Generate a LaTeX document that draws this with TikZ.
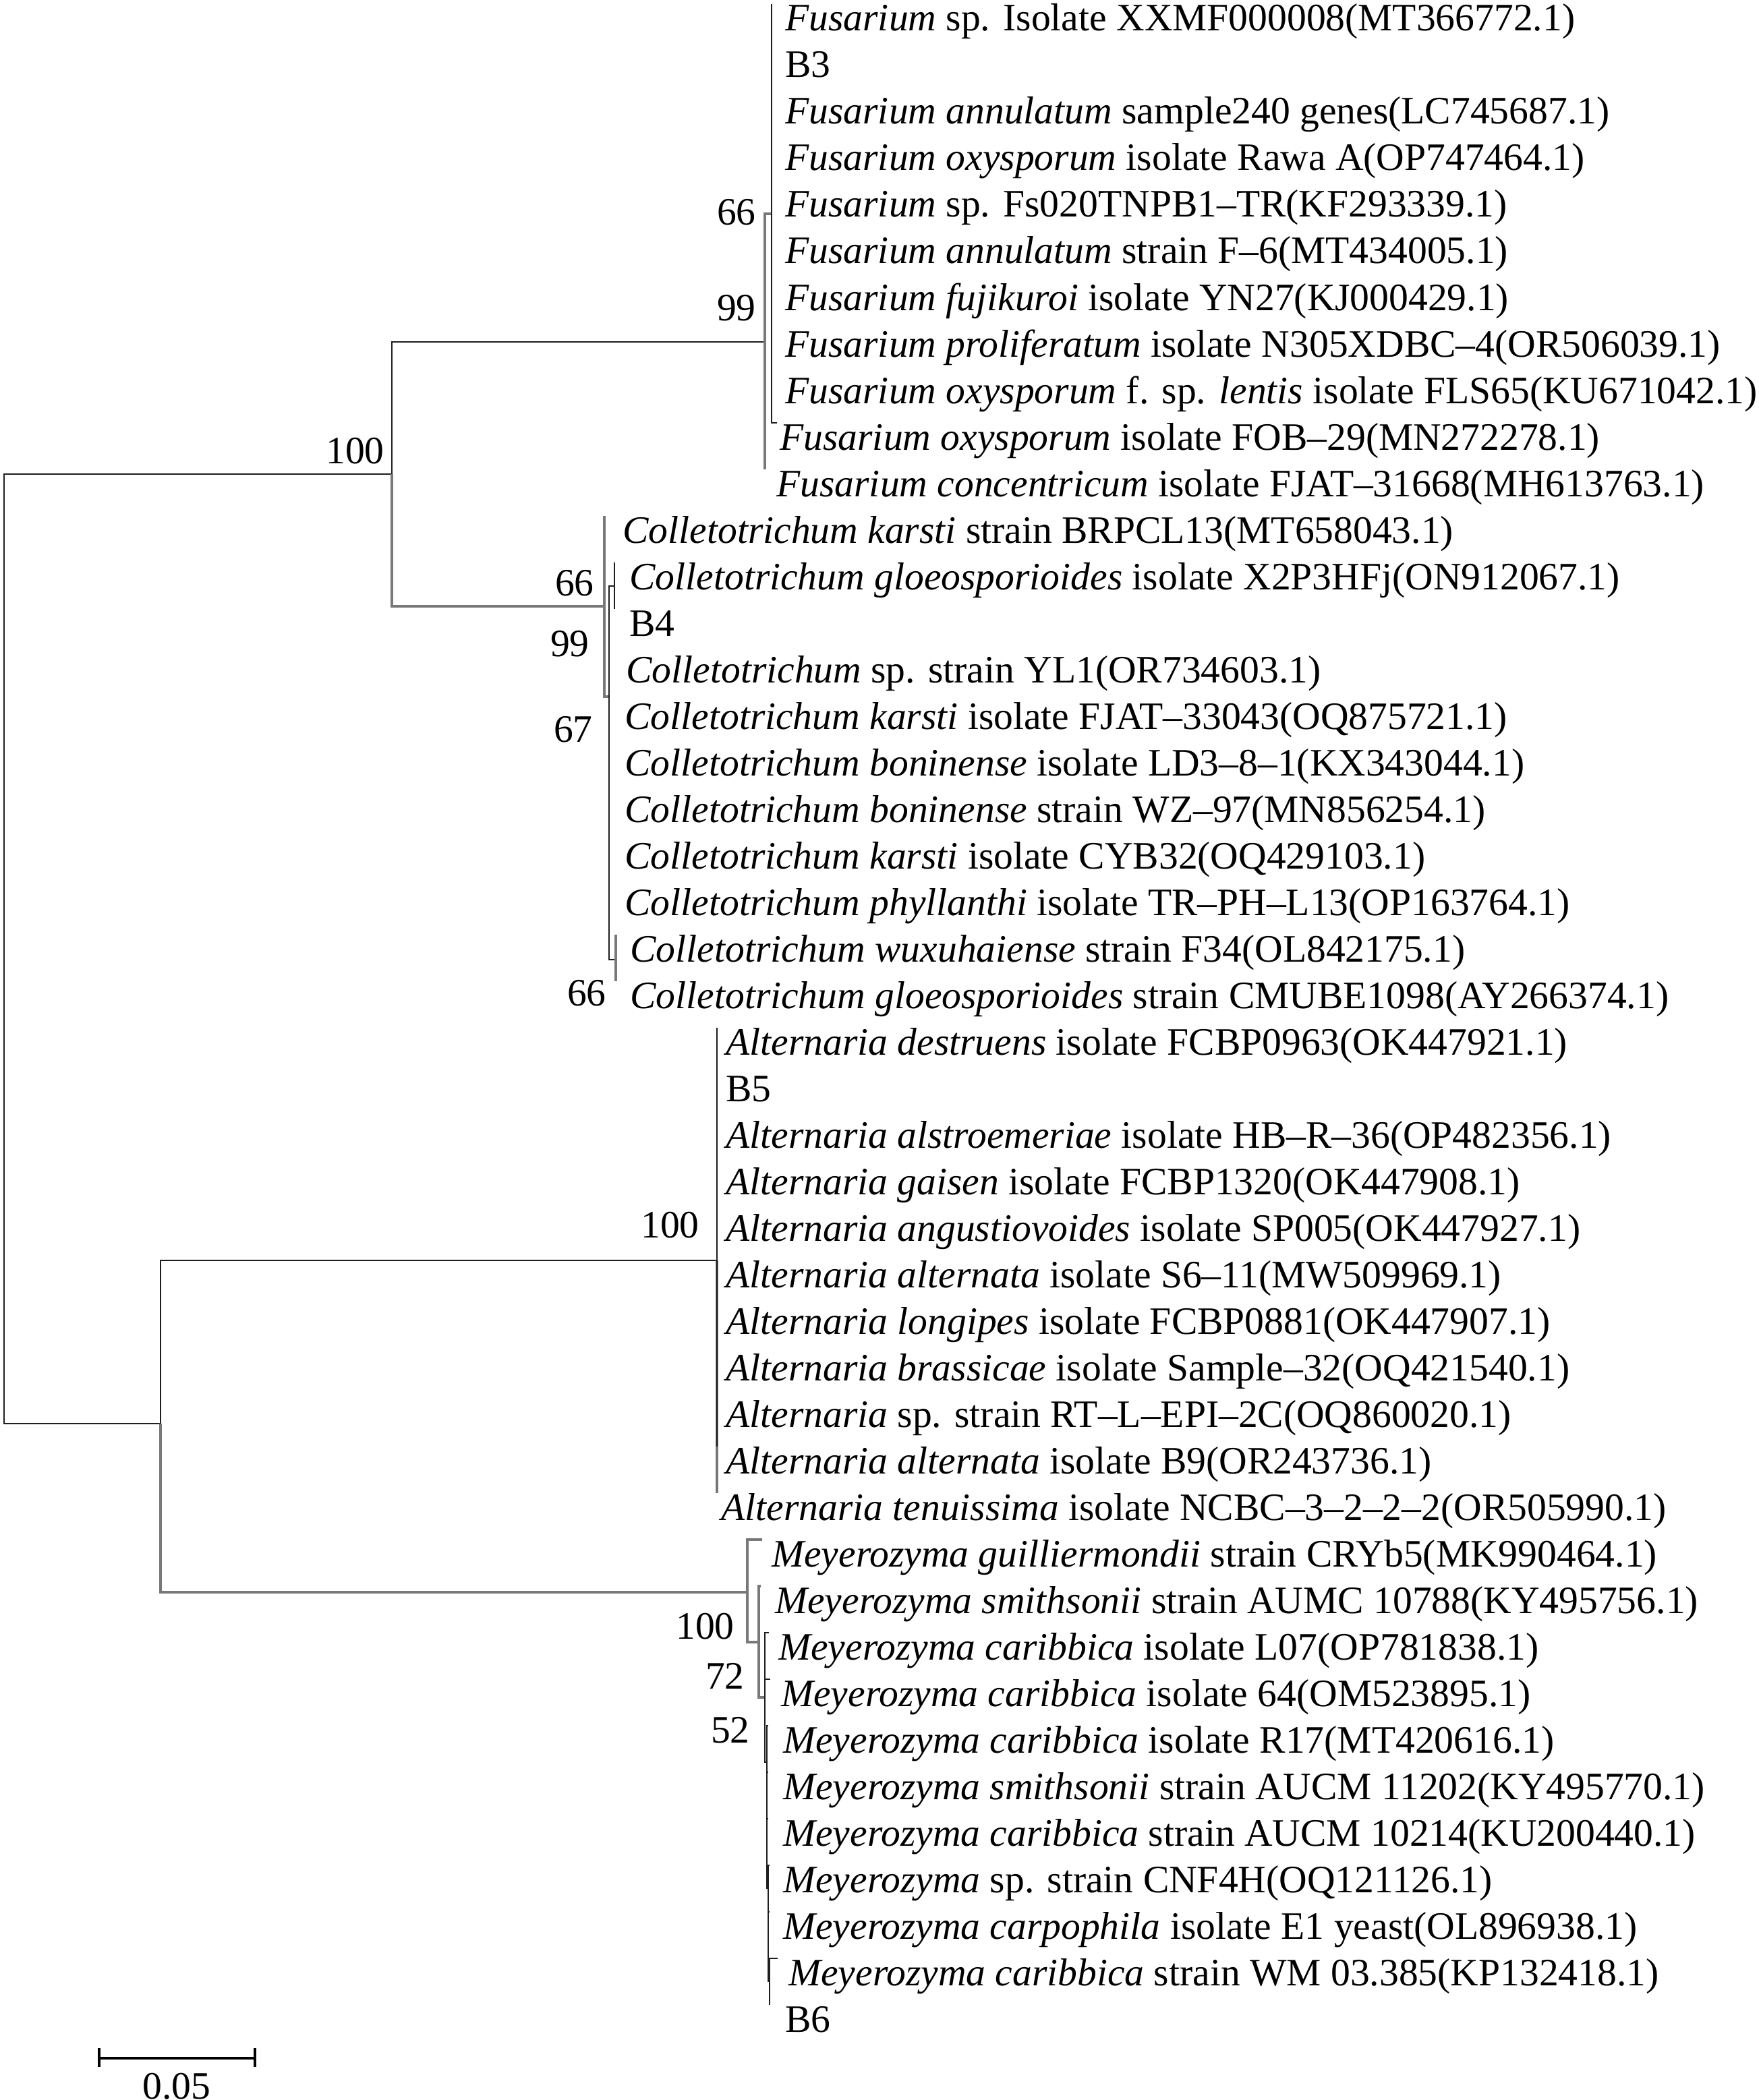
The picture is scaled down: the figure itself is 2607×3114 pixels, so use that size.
\documentclass[tikz,border=0pt]{standalone}
\usepackage{fontspec}
\setmainfont{Liberation Serif}
\begin{document}
\begin{tikzpicture}[x=0.005cm, y=-0.005cm,
        br/.style={line width=0.4pt, color={rgb,255:red,30; green,30; blue,30}},
        brg/.style={line width=0.45pt, color={rgb,255:red,120; green,120; blue,120}},
        leaf/.style={anchor=base west, inner sep=0pt},
        boot/.style={anchor=base east, inner sep=0pt}]
        \tikzstyle{every node}=[font=\fontsize{8.2}{9.8}\selectfont]
        \useasboundingbox (0,0) rectangle (2607,3114);
        \coordinate (root) at (6,1407);
        \coordinate (t100) at (581,703);
        \coordinate (b0) at (238,2111);
        \coordinate (f99) at (1134,507);
        \coordinate (f66) at (1144,317);
        \coordinate (c99) at (896,899);
        \coordinate (c67) at (903,1033);
        \coordinate (c66a) at (911,869);
        \coordinate (c66b) at (913,1423);
        \coordinate (a100) at (1063,1869);
        \coordinate (m1) at (1108,2361);
        \coordinate (m2) at (1125,2435);
        \coordinate (m3) at (1134,2517);
        \coordinate (m4) at (1137,2613);
        \coordinate (m5) at (1139,2800);
        \coordinate (m6) at (1141,2938);
        \foreach \r/\tx/\lx/\txt in {
                1/1144/1163/{\textit{Fusarium} sp. Isolate XXMF000008(MT366772.1)},
                2/1144/1163/{B3},
                3/1144/1163/{\textit{Fusarium annulatum} sample240 genes(LC745687.1)},
                4/1144/1163/{\textit{Fusarium oxysporum} isolate Rawa A(OP747464.1)},
                5/1144/1163/{\textit{Fusarium} sp. Fs020TNPB1–TR(KF293339.1)},
                6/1144/1163/{\textit{Fusarium annulatum} strain F–6(MT434005.1)},
                7/1144/1163/{\textit{Fusarium fujikuroi} isolate YN27(KJ000429.1)},
                8/1144/1163/{\textit{Fusarium proliferatum} isolate N305XDBC–4(OR506039.1)},
                9/1144/1163/{\textit{Fusarium oxysporum} f. sp. \textit{lentis} isolate FLS65(KU671042.1)},
                10/1152/1155/{\textit{Fusarium oxysporum} isolate FOB–29(MN272278.1)},
                11/1134/1150/{\textit{Fusarium concentricum} isolate FJAT–31668(MH613763.1)},
                12/896/922/{\textit{Colletotrichum karsti} strain BRPCL13(MT658043.1)},
                13/911/932/{\textit{Colletotrichum gloeosporioides} isolate X2P3HFj(ON912067.1)},
                14/911/932/{B4},
                15/903/927/{\textit{Colletotrichum} sp. strain YL1(OR734603.1)},
                16/903/925/{\textit{Colletotrichum karsti} isolate FJAT–33043(OQ875721.1)},
                17/903/925/{\textit{Colletotrichum boninense} isolate LD3–8–1(KX343044.1)},
                18/903/925/{\textit{Colletotrichum boninense} strain WZ–97(MN856254.1)},
                19/903/925/{\textit{Colletotrichum karsti} isolate CYB32(OQ429103.1)},
                20/903/925/{\textit{Colletotrichum phyllanthi} isolate TR–PH–L13(OP163764.1)},
                21/913/933/{\textit{Colletotrichum wuxuhaiense} strain F34(OL842175.1)},
                22/913/933/{\textit{Colletotrichum gloeosporioides} strain CMUBE1098(AY266374.1)},
                23/1063/1075/{\textit{Alternaria destruens} isolate FCBP0963(OK447921.1)},
                24/1063/1075/{B5},
                25/1063/1075/{\textit{Alternaria alstroemeriae} isolate HB–R–36(OP482356.1)},
                26/1063/1075/{\textit{Alternaria gaisen} isolate FCBP1320(OK447908.1)},
                27/1063/1075/{\textit{Alternaria angustiovoides} isolate SP005(OK447927.1)},
                28/1063/1075/{\textit{Alternaria alternata} isolate S6–11(MW509969.1)},
                29/1063/1075/{\textit{Alternaria longipes} isolate FCBP0881(OK447907.1)},
                30/1063/1075/{\textit{Alternaria brassicae} isolate Sample–32(OQ421540.1)},
                31/1063/1075/{\textit{Alternaria} sp. strain RT–L–EPI–2C(OQ860020.1)},
                32/1063/1075/{\textit{Alternaria alternata} isolate B9(OR243736.1)},
                33/1063/1068/{\textit{Alternaria tenuissima} isolate NCBC–3–2–2–2(OR505990.1)},
                34/1130/1143/{\textit{Meyerozyma guilliermondii} strain CRYb5(MK990464.1)},
                35/1128/1148/{\textit{Meyerozyma smithsonii} strain AUMC 10788(KY495756.1)},
                36/1140/1153/{\textit{Meyerozyma caribbica} isolate L07(OP781838.1)},
                37/1142/1157/{\textit{Meyerozyma caribbica} isolate 64(OM523895.1)},
                38/1139/1160/{\textit{Meyerozyma caribbica} isolate R17(MT420616.1)},
                39/1139/1160/{\textit{Meyerozyma smithsonii} strain AUCM 11202(KY495770.1)},
                40/1139/1160/{\textit{Meyerozyma caribbica} strain AUCM 10214(KU200440.1)},
                41/1141/1160/{\textit{Meyerozyma} sp. strain CNF4H(OQ121126.1)},
                42/1141/1160/{\textit{Meyerozyma carpophila} isolate E1 yeast(OL896938.1)},
                43/1153/1168/{\textit{Meyerozyma caribbica} strain WM 03.385(KP132418.1)},
                44/1141/1163/{B6}}{
                \coordinate (l\r) at (\tx,{6+69*(\r-1)});
                \node[leaf] (n\r) at (\lx,{46+69*(\r-1)}) {\txt};
        }
        \draw [br] (root) |- (t100);
        \draw [br] (root) |- (b0);
        \draw [br] (t100) |- (f99);
        \draw [brg] (t100) |- (c99);
        \draw [brg] (f99) |- (f66);
        \draw [brg] (f99) |- (l11);
        \foreach \r in {1,...,10} \draw [br] (f66) |- (l\r);
        \draw [brg] (c99) |- (l12);
        \draw [brg] (c99) |- (c67);
        \draw [br] (c67) |- (c66a);
        \draw [br] (c67) |- (c66b);
        \foreach \r in {15,...,20} \draw [br] (c67) |- (l\r);
        \draw [br] (c66a) |- (l13);
        \draw [br] (c66a) |- (l14);
        \draw [brg] (c66b) |- (l21);
        \draw [brg] (c66b) |- (l22);
        \draw [br] (b0) |- (a100);
        \draw [brg] (b0) |- (m1);
        \draw [brg] (a100) |- (l33);
        \foreach \r in {23,...,32} \draw [br] (a100) |- (l\r);
        \draw [brg] (m1) |- (l34);
        \draw [brg] (m1) |- (m2);
        \draw [brg] (m2) |- (l35);
        \draw [brg] (m2) |- (m3);
        \draw [br] (m3) |- (l36);
        \draw [br] (m3) |- (l37);
        \draw [br] (m3) |- (m4);
        \foreach \r in {38,39,40} \draw [br] (m4) |- (l\r);
        \draw [br] (m4) |- (m5);
        \foreach \r in {41,42} \draw [br] (m5) |- (l\r);
        \draw [br] (m5) |- (m6);
        \draw [br] (m6) |- (l43);
        \draw [br] (m6) |- (l44);
        \node [boot] (bs1) at (571,687) {100};
        \node [boot] (bs2) at (1122,334) {66};
        \node [boot] (bs3) at (1122,475) {99};
        \node [boot] (bs4) at (882,883) {66};
        \node [boot] (bs5) at (875,973) {99};
        \node [boot] (bs6) at (880,1100) {67};
        \node [boot] (bs7) at (900,1491) {66};
        \node [boot] (bs8) at (1038,1835) {100};
        \node [boot] (bs9) at (1090,2430) {100};
        \node [boot] (bs10) at (1105,2504) {72};
        \node [boot] (bs11) at (1113,2584) {52};
        \coordinate (sb1) at (147,3052);
        \coordinate (sb2) at (378,3052);
        \draw [line width=0.6pt] (sb1) -- (sb2);
        \draw [line width=0.5pt] ([yshift=2.1pt]sb1) -- ([yshift=-1.85pt]sb1);
        \draw [line width=0.5pt] ([yshift=2.1pt]sb2) -- ([yshift=-1.85pt]sb2);
        \node [anchor=base, inner sep=0pt] (sbl) at (262,3112) {0.05};
\end{tikzpicture}
\end{document}
